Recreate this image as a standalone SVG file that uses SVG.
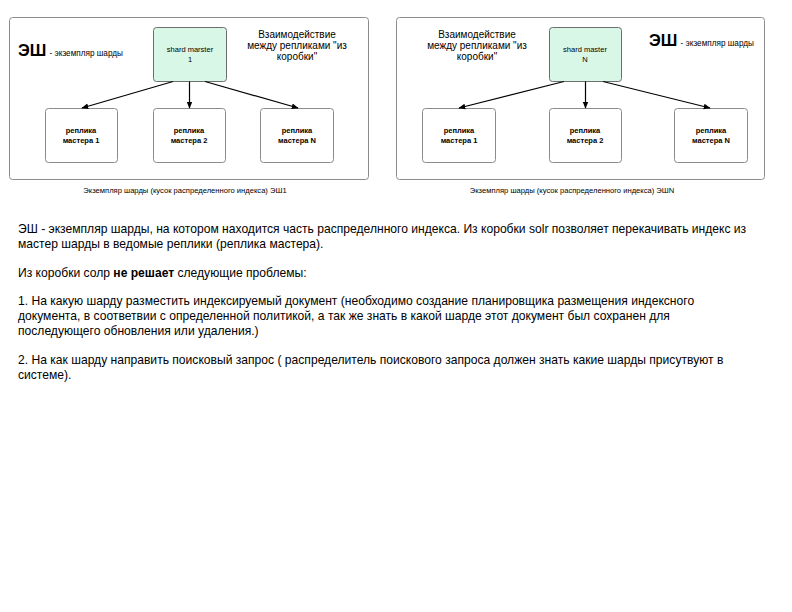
<svg xmlns="http://www.w3.org/2000/svg" width="792" height="612" viewBox="0 0 792 612">
  <defs>
    <marker id="arrow" viewBox="0 0 10 10" refX="9" refY="5" markerWidth="7" markerHeight="7" orient="auto" markerUnits="userSpaceOnUse">
      <path d="M0,1 L10,5 L0,9 Z" fill="#000"/>
    </marker>
  </defs>
  <style>
    text { font-family: "Liberation Sans", Arial, sans-serif; fill: #000; }
    .frame { fill: #fff; stroke: #8c8c8c; stroke-width: 1; }
    .master { fill: #d9f7e6; stroke: #6e6e6e; stroke-width: 1; }
    .replica { fill: #fff; stroke: #8c8c8c; stroke-width: 1; }
    .node { font-size: 7.5px; text-anchor: middle; }
    .bold { font-weight: bold; }
    .note { font-size: 10px; text-anchor: middle; }
    .big { font-size: 16.5px; font-weight: bold; }
    .small { font-size: 8.2px; }
    .caption { font-size: 7.6px; text-anchor: middle; }
    .para { font-size: 12.1px; }
    .conn { stroke: #000; stroke-width: 1.2; fill: none; marker-end: url(#arrow); }
  </style>
  <rect width="792" height="612" fill="#fff"/>

  <!-- shard instance 1 -->
  <g id="shard1">
    <rect class="frame" x="9.5" y="17.5" width="359" height="162" rx="3"/>
    <text x="18" y="56"><tspan class="big">ЭШ</tspan><tspan class="small" dx="1"> - экземпляр шарды</tspan></text>
    <text class="note" x="297" y="38">Взаимодействие</text>
    <text class="note" x="297" y="49">между репликами "из</text>
    <text class="note" x="297" y="60">коробки"</text>
    <text class="caption" x="185" y="193">Экземпляр шарды (кусок распределенного индекса) ЭШ1</text>
  </g>
  <g id="master1">
    <rect class="master" x="153.5" y="27.5" width="73" height="54" rx="3"/>
    <text class="node" x="190" y="52">shard marster</text>
    <text class="node" x="190" y="62">1</text>
  </g>
  <g id="replica1-1">
    <rect class="replica" x="45.5" y="108.5" width="72" height="54" rx="3"/>
    <text class="node bold" x="81" y="133">реплика</text>
    <text class="node bold" x="81" y="143">мастера 1</text>
  </g>
  <g id="replica1-2">
    <rect class="replica" x="153.5" y="108.5" width="72" height="54" rx="3"/>
    <text class="node bold" x="189" y="133">реплика</text>
    <text class="node bold" x="189" y="143">мастера 2</text>
  </g>
  <g id="replica1-n">
    <rect class="replica" x="260.5" y="108.5" width="73" height="54" rx="3"/>
    <text class="node bold" x="297" y="133">реплика</text>
    <text class="node bold" x="297" y="143">мастера N</text>
  </g>

  <!-- shard instance N -->
  <g id="shardN">
    <rect class="frame" x="396.5" y="17.5" width="368" height="162" rx="3"/>
    <text x="649" y="46"><tspan class="big">ЭШ</tspan><tspan class="small" dx="1"> - экземпляр шарды</tspan></text>
    <text class="note" x="477" y="38">Взаимодействие</text>
    <text class="note" x="477" y="49">между репликами "из</text>
    <text class="note" x="477" y="60">коробки"</text>
    <text class="caption" x="572" y="193">Экземпляр шарды (кусок распределенного индекса) ЭШN</text>
  </g>
  <g id="masterN">
    <rect class="master" x="549.5" y="27.5" width="72" height="54" rx="3"/>
    <text class="node" x="585" y="52">shard master</text>
    <text class="node" x="585" y="62">N</text>
  </g>
  <g id="replicaN-1">
    <rect class="replica" x="422.5" y="108.5" width="73" height="54" rx="3"/>
    <text class="node bold" x="459" y="133">реплика</text>
    <text class="node bold" x="459" y="143">мастера 1</text>
  </g>
  <g id="replicaN-2">
    <rect class="replica" x="549.5" y="108.5" width="72" height="54" rx="3"/>
    <text class="node bold" x="585" y="133">реплика</text>
    <text class="node bold" x="585" y="143">мастера 2</text>
  </g>
  <g id="replicaN-n">
    <rect class="replica" x="674.5" y="108.5" width="73" height="54" rx="3"/>
    <text class="node bold" x="711" y="133">реплика</text>
    <text class="node bold" x="711" y="143">мастера N</text>
  </g>

  <!-- replication links -->
  <g id="connectors">
    <line class="conn" x1="173" y1="81.5" x2="82" y2="108"/>
    <line class="conn" x1="189.5" y1="81.5" x2="189.5" y2="108"/>
    <line class="conn" x1="205" y1="81.5" x2="298" y2="108"/>
    <line class="conn" x1="564" y1="81.5" x2="459" y2="108"/>
    <line class="conn" x1="585.5" y1="81.5" x2="585.5" y2="108"/>
    <line class="conn" x1="603" y1="81.5" x2="710" y2="108"/>
  </g>

  <!-- description -->
  <g id="description">
    <text class="para" x="18" y="233">ЭШ - экземпляр шарды, на котором находится часть распределнного индекса. Из коробки solr позволяет перекачивать индекс из</text>
    <text class="para" x="18" y="248">мастер шарды в ведомые реплики (реплика мастера).</text>
    <text class="para" x="18" y="277">Из коробки солр <tspan font-weight="bold">не решает</tspan> следующие проблемы:</text>
    <text class="para" x="18" y="305">1. На какую шарду разместить индексируемый документ (необходимо создание планировщика размещения индексного</text>
    <text class="para" x="18" y="320">документа, в соответвии с определенной политикой, а так же знать в какой шарде этот документ был сохранен для</text>
    <text class="para" x="18" y="335">последующего обновления или удаления.)</text>
    <text class="para" x="18" y="364">2. На как шарду направить поисковый запрос ( распределитель поискового запроса должен знать какие шарды присутвуют в</text>
    <text class="para" x="18" y="379">системе).</text>
  </g>
</svg>
